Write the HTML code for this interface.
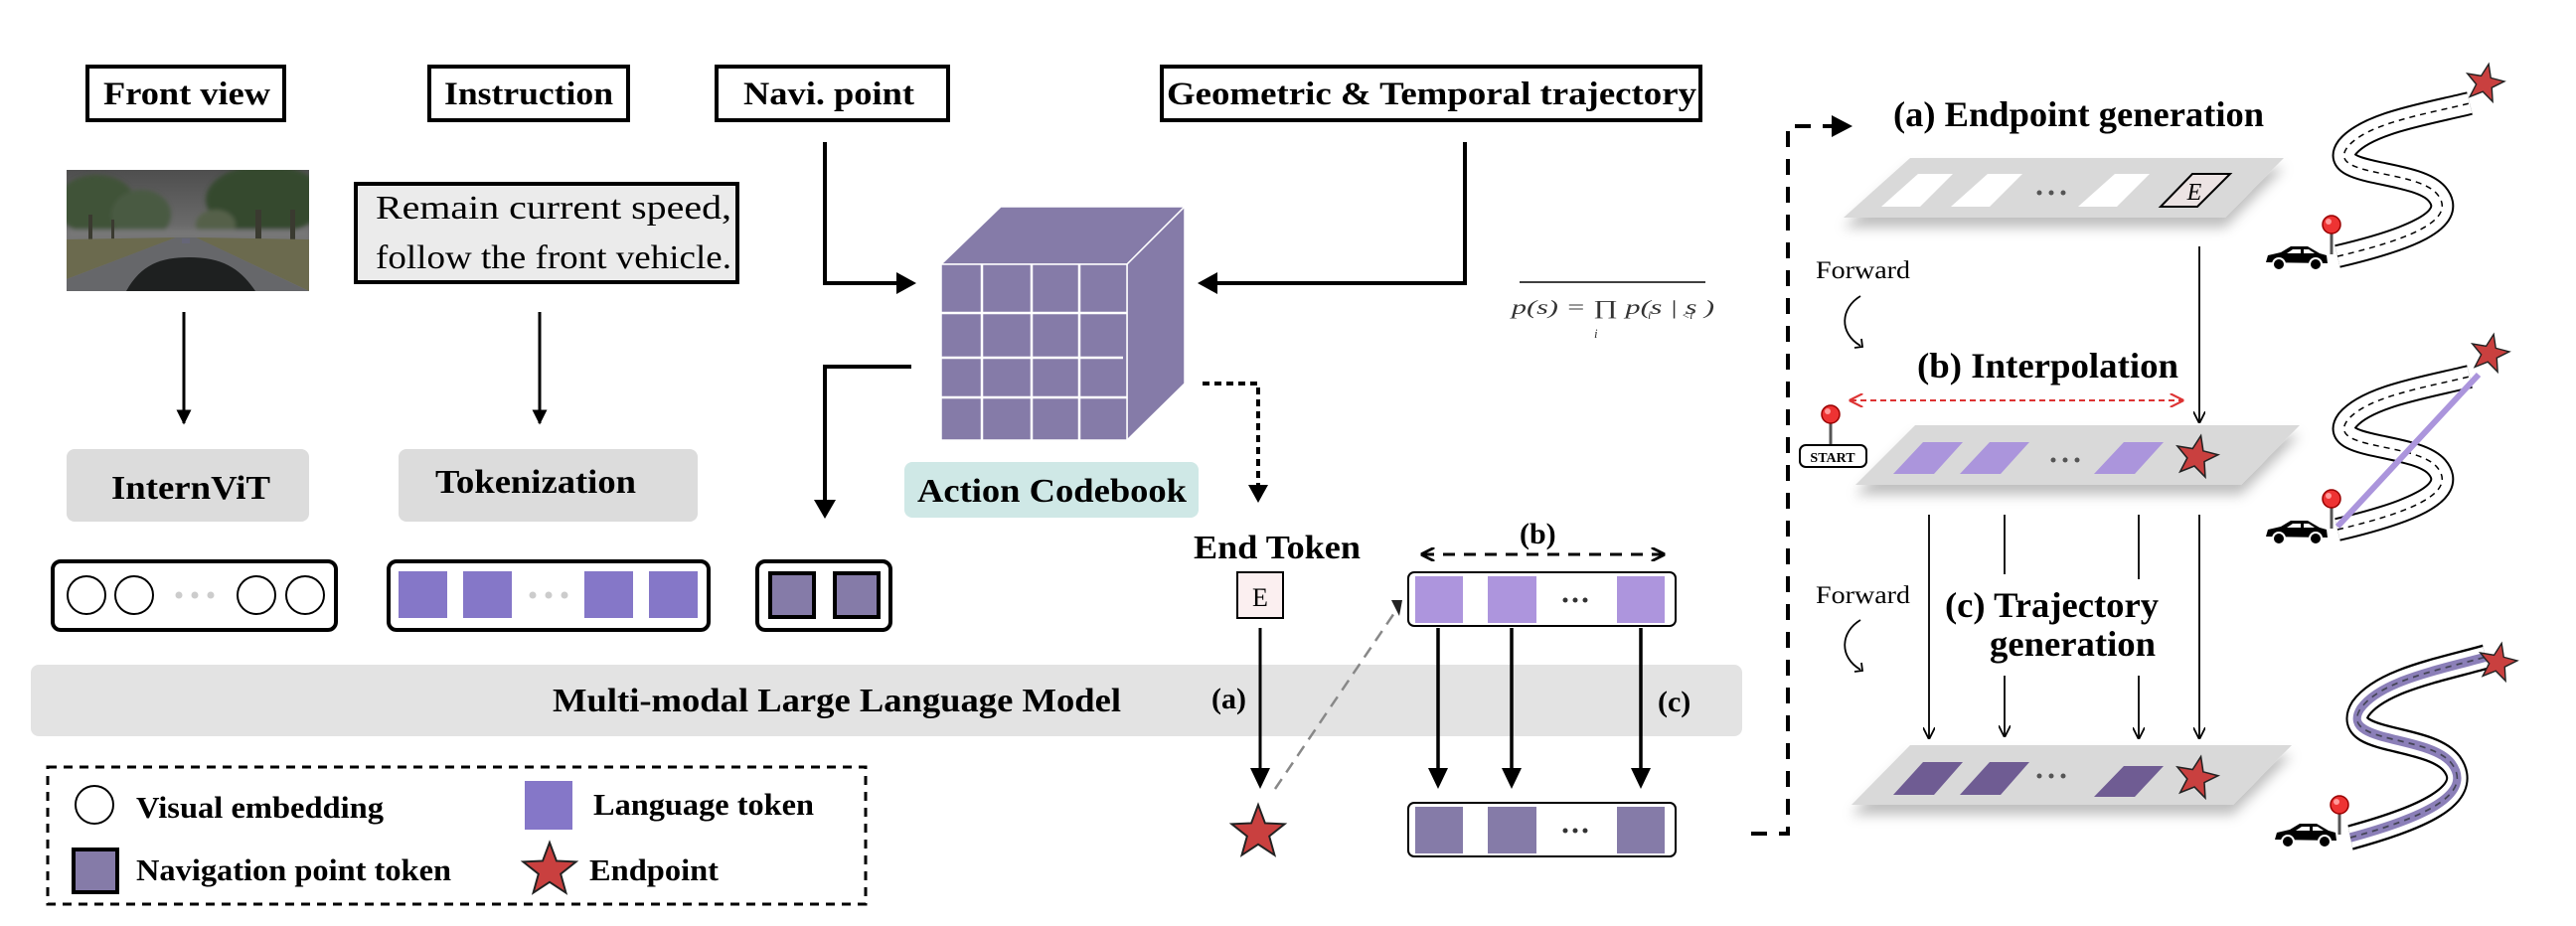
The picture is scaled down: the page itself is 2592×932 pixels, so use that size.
<!DOCTYPE html>
<html><head><meta charset="utf-8"><style>html,body{margin:0;padding:0;background:#fff}svg{display:block}text{font-family:"Liberation Serif",serif}</style></head><body>
<svg width="2592" height="932" viewBox="0 0 2592 932" xmlns="http://www.w3.org/2000/svg">
<defs>
<marker id="ah" viewBox="0 0 10 10" refX="9" refY="5" markerWidth="5" markerHeight="5" orient="auto"><path d="M0,0 L10,5 L0,10 Z" fill="#000"/></marker>
<marker id="ao" viewBox="0 0 10 10" refX="9" refY="5" markerWidth="12" markerHeight="12" orient="auto" markerUnits="userSpaceOnUse"><path d="M0,0 L10,5 L0,10" fill="none" stroke="#000" stroke-width="1.5"/></marker>
<marker id="ar" viewBox="0 0 10 10" refX="9" refY="5" markerWidth="14" markerHeight="14" orient="auto-start-reverse" markerUnits="userSpaceOnUse"><path d="M0,0 L10,5 L0,10" fill="none" stroke="#d33" stroke-width="1.5"/></marker>
<marker id="ab" viewBox="0 0 10 10" refX="9" refY="5" markerWidth="14" markerHeight="14" orient="auto-start-reverse" markerUnits="userSpaceOnUse"><path d="M0,0 L10,5 L0,10" fill="none" stroke="#000" stroke-width="2"/></marker>
<filter id="sh" x="-10%" y="-30%" width="120%" height="180%"><feDropShadow dx="0" dy="10" stdDeviation="6" flood-color="#000" flood-opacity="0.25"/></filter>
<filter id="bl"><feGaussianBlur stdDeviation="2"/></filter>
<linearGradient id="sky" x1="0" y1="0" x2="0" y2="1"><stop offset="0" stop-color="#4e4e4e"/><stop offset="1" stop-color="#8c8c8c"/></linearGradient>
<g id="car"><path d="M2,18 L4,11 L17,8 L27,2 L44,2 L56,9 L63,11 L64,19 Z" fill="#000"/><path d="M29,5 L37,5 L37,9 L23,9 Z M40,5 L45,5 L51,9 L40,9 Z" fill="#fff"/><circle cx="15" cy="20" r="6" fill="#000" stroke="#fff" stroke-width="2"/><circle cx="52" cy="20" r="6" fill="#000" stroke="#fff" stroke-width="2"/></g>
<g id="pin"><line x1="0" y1="0" x2="0" y2="30" stroke="#555" stroke-width="3"/><circle cx="0" cy="0" r="9" fill="#e33" stroke="#900" stroke-width="1.5"/><circle cx="-3" cy="-3" r="3" fill="#f99"/></g>
<path id="road" d="M2352,258 C2420,242 2475,222 2452,195 C2430,170 2340,178 2362,148 C2382,124 2440,115 2485,104"/>
</defs>

<g fill="none" stroke="#000" stroke-width="4">
<rect x="88" y="67" width="198" height="54"/>
<rect x="432" y="67" width="200" height="54"/>
<rect x="721" y="67" width="233" height="54"/>
<rect x="1169" y="67" width="542" height="54"/>
</g>
<g font-weight="bold" font-size="33">
<text x="104" y="105" textLength="168" lengthAdjust="spacingAndGlyphs">Front view</text>
<text x="447" y="105" textLength="170" lengthAdjust="spacingAndGlyphs">Instruction</text>
<text x="748" y="105" textLength="172" lengthAdjust="spacingAndGlyphs">Navi. point</text>
<text x="1174" y="105" textLength="533" lengthAdjust="spacingAndGlyphs">Geometric &amp; Temporal trajectory</text>
</g>

<svg x="67" y="171" width="244" height="122" viewBox="0 0 244 122">
<rect width="244" height="122" fill="url(#sky)"/>
<g filter="url(#bl)">
<ellipse cx="30" cy="35" rx="40" ry="30" fill="#3f5239"/>
<ellipse cx="75" cy="45" rx="30" ry="25" fill="#4a5a42"/>
<ellipse cx="200" cy="30" rx="60" ry="35" fill="#36492f"/>
<ellipse cx="150" cy="55" rx="20" ry="15" fill="#556048"/>
<rect x="0" y="60" width="244" height="10" fill="#777"/>
</g>
<g fill="#3a3a30"><rect x="22" y="45" width="4" height="30"/><rect x="45" y="50" width="3" height="25"/><rect x="190" y="40" width="6" height="45"/><rect x="225" y="40" width="5" height="45"/></g>
<path d="M0,70 L110,68 L0,110 Z" fill="#6b6a4e"/>
<path d="M244,70 L130,68 L244,122 Z" fill="#6b6a4e"/>
<path d="M110,68 L130,68 L244,122 L0,122 L0,110 Z" fill="#66676a"/>
<path d="M60,122 C75,95 95,88 123,88 C158,88 175,100 190,122 Z" fill="#1e2020"/>
<rect x="116" y="69" width="8" height="5" fill="#667"/>
</svg>

<rect x="358" y="185" width="384" height="99" fill="#ebebeb" stroke="#000" stroke-width="4"/>
<g font-size="34">
<text x="378" y="220" textLength="358" lengthAdjust="spacingAndGlyphs">Remain current speed,</text>
<text x="378" y="270" textLength="358" lengthAdjust="spacingAndGlyphs">follow the front vehicle.</text>
</g>

<g stroke="#000" stroke-width="3" fill="none" marker-end="url(#ah)">
<line x1="185" y1="314" x2="185" y2="426"/>
<line x1="543" y1="314" x2="543" y2="426"/>
</g>

<rect x="67" y="452" width="244" height="73" rx="8" fill="#dcdcdc"/>
<rect x="401" y="452" width="301" height="73" rx="8" fill="#dcdcdc"/>
<g font-weight="bold" font-size="34">
<text x="112" y="502" textLength="160" lengthAdjust="spacingAndGlyphs">InternViT</text>
<text x="438" y="496" textLength="202" lengthAdjust="spacingAndGlyphs">Tokenization</text>
</g>

<rect x="53" y="565" width="285" height="69" rx="8" fill="#fff" stroke="#000" stroke-width="4"/>
<g fill="#fff" stroke="#000" stroke-width="2"><circle cx="87" cy="599" r="19"/><circle cx="135" cy="599" r="19"/><circle cx="258" cy="599" r="19"/><circle cx="307" cy="599" r="19"/></g>
<g fill="#ccc"><circle cx="180" cy="599" r="3.5"/><circle cx="196" cy="599" r="3.5"/><circle cx="212" cy="599" r="3.5"/></g>

<rect x="391" y="565" width="322" height="69" rx="8" fill="#fff" stroke="#000" stroke-width="4"/>
<g fill="#8577c8"><rect x="401" y="575" width="49" height="47"/><rect x="466" y="575" width="49" height="47"/><rect x="588" y="575" width="49" height="47"/><rect x="653" y="575" width="49" height="47"/></g>
<g fill="#ccc"><circle cx="536" cy="599" r="3.5"/><circle cx="552" cy="599" r="3.5"/><circle cx="568" cy="599" r="3.5"/></g>

<rect x="762" y="565" width="134" height="69" rx="8" fill="#fff" stroke="#000" stroke-width="4"/>
<g fill="#857ba8" stroke="#000" stroke-width="4"><rect x="775" y="577" width="44" height="44"/><rect x="840" y="577" width="44" height="44"/></g>

<g stroke="#000" stroke-width="4" fill="none">
<polyline points="830,143 830,285 905,285"/>
<polyline points="1474,143 1474,285 1222,285"/>
<polyline points="917,369 830,369 830,505"/>
</g>
<path d="M902,274 L922,285 L902,296 Z"/>
<path d="M1225,274 L1205,285 L1225,296 Z"/>
<path d="M819,503 L830,522 L841,503 Z"/>

<g fill="#857ba8" stroke="#fff" stroke-width="1.5">
<path d="M947,266 L1007,208 L1192,208 L1134,266 Z"/>
<path d="M1134,266 L1192,208 L1192,386 L1134,443 Z"/>
<rect x="947" y="266" width="187" height="177"/>
</g>
<g stroke="#fff" stroke-width="2.5">
<line x1="988" y1="266" x2="988" y2="443"/><line x1="1038" y1="266" x2="1038" y2="443"/><line x1="1086" y1="266" x2="1086" y2="443"/>
<line x1="947" y1="315" x2="1134" y2="315"/><line x1="947" y1="360" x2="1130" y2="360"/><line x1="947" y1="400" x2="1134" y2="400"/>
</g>

<rect x="910" y="465" width="296" height="56" rx="8" fill="#cfe8e6"/>
<text x="923" y="505" font-weight="bold" font-size="34" textLength="271" lengthAdjust="spacingAndGlyphs">Action Codebook</text>

<polyline points="1210,386 1266,386 1266,490" fill="none" stroke="#000" stroke-width="4" stroke-dasharray="7,5"/>
<path d="M1256,488 L1266,506 L1276,488 Z"/>

<line x1="1529" y1="284" x2="1716" y2="284" stroke="#000" stroke-width="1.5"/>
<text x="1521" y="316" font-size="20" font-style="italic" fill="#333" textLength="204" lengthAdjust="spacingAndGlyphs">p(s) = ∏ p(s  | s   )</text>
<text x="1658" y="321" font-size="12" font-style="italic" fill="#333">i</text>
<text x="1692" y="321" font-size="12" font-style="italic" fill="#333">&lt;i</text>
<text x="1604" y="340" font-size="13" font-style="italic" fill="#333">i</text>

<text x="1201" y="562" font-weight="bold" font-size="34" textLength="168" lengthAdjust="spacingAndGlyphs">End Token</text>
<rect x="1245" y="576" width="46" height="46" fill="#fbeff0" stroke="#000" stroke-width="2"/>
<text x="1268" y="610" font-size="26" text-anchor="middle">E</text>

<rect x="31" y="669" width="1722" height="72" rx="8" fill="#e3e3e3"/>
<text x="556" y="716" font-weight="bold" font-size="34" textLength="572" lengthAdjust="spacingAndGlyphs">Multi-modal Large Language Model</text>
<text x="1219" y="713" font-weight="bold" font-size="30">(a)</text>
<text x="1668" y="716" font-weight="bold" font-size="30">(c)</text>

<line x1="1268" y1="632" x2="1268" y2="775" stroke="#000" stroke-width="3"/>
<path d="M1258,773 L1268,794 L1278,773 Z"/>
<g transform="translate(1266,838) scale(28)"><path d="M0,-1 L0.247,-0.34 L0.951,-0.309 L0.399,0.13 L0.588,0.809 L0,0.42 L-0.588,0.809 L-0.399,0.13 L-0.951,-0.309 L-0.247,-0.34 Z" fill="#c9403f" stroke="#222" stroke-width="0.07"/></g>
<line x1="1283" y1="794" x2="1405" y2="614" stroke="#888" stroke-width="2.5" stroke-dasharray="12,8"/>
<path d="M1400,604 L1411,604 L1408,620 Z" fill="#222"/>

<text x="1529" y="547" font-weight="bold" font-size="30">(b)</text>
<line x1="1431" y1="558" x2="1674" y2="558" stroke="#000" stroke-width="3" stroke-dasharray="12,9" marker-start="url(#ab)" marker-end="url(#ab)"/>
<rect x="1417" y="576" width="269" height="54" rx="6" fill="#fff" stroke="#000" stroke-width="2"/>
<g fill="#ad95dd"><rect x="1424" y="580" width="48" height="47"/><rect x="1497" y="580" width="49" height="47"/><rect x="1627" y="580" width="48" height="47"/></g>
<g fill="#333"><circle cx="1585" cy="604" r="2.5"/><circle cx="1595" cy="604" r="2.5"/><circle cx="1575" cy="604" r="2.5"/></g>
<g stroke="#000" stroke-width="3.5"><line x1="1447" y1="632" x2="1447" y2="775"/><line x1="1521" y1="632" x2="1521" y2="775"/><line x1="1651" y1="632" x2="1651" y2="775"/></g>
<path d="M1437,773 L1447,794 L1457,773 Z M1511,773 L1521,794 L1531,773 Z M1641,773 L1651,794 L1661,773 Z"/>
<rect x="1417" y="808" width="269" height="54" rx="6" fill="#fff" stroke="#000" stroke-width="2"/>
<g fill="#857ba8"><rect x="1424" y="812" width="48" height="47"/><rect x="1497" y="812" width="49" height="47"/><rect x="1627" y="812" width="48" height="47"/></g>
<g fill="#333"><circle cx="1585" cy="836" r="2.5"/><circle cx="1595" cy="836" r="2.5"/><circle cx="1575" cy="836" r="2.5"/></g>

<rect x="48" y="772" width="823" height="138" fill="none" stroke="#000" stroke-width="3" stroke-dasharray="9,7"/>
<circle cx="95" cy="810" r="19" fill="#fff" stroke="#000" stroke-width="2"/>
<rect x="528" y="786" width="48" height="49" fill="#8577c8"/>
<rect x="74" y="855" width="44" height="43" fill="#857ba8" stroke="#000" stroke-width="4"/>
<g transform="translate(553,876) scale(28)"><path d="M0,-1 L0.247,-0.34 L0.951,-0.309 L0.399,0.13 L0.588,0.809 L0,0.42 L-0.588,0.809 L-0.399,0.13 L-0.951,-0.309 L-0.247,-0.34 Z" fill="#c9403f" stroke="#222" stroke-width="0.07"/></g>
<g font-weight="bold" font-size="31">
<text x="137" y="823" textLength="249" lengthAdjust="spacingAndGlyphs">Visual embedding</text>
<text x="597" y="820" textLength="222" lengthAdjust="spacingAndGlyphs">Language token</text>
<text x="137" y="886" textLength="317" lengthAdjust="spacingAndGlyphs">Navigation point token</text>
<text x="593" y="886" textLength="130" lengthAdjust="spacingAndGlyphs">Endpoint</text>
</g>

<polyline points="1762,839 1799,839 1799,127 1845,127" fill="none" stroke="#000" stroke-width="4" stroke-dasharray="16,12"/>
<path d="M1843,116 L1864,127 L1843,138 Z"/>

<g font-weight="bold" font-size="36">
<text x="1905" y="127" textLength="373" lengthAdjust="spacingAndGlyphs">(a) Endpoint generation</text>
<text x="1929" y="380" textLength="263" lengthAdjust="spacingAndGlyphs">(b) Interpolation</text>
<text x="1957" y="621" textLength="215" lengthAdjust="spacingAndGlyphs">(c) Trajectory</text>
<text x="2002" y="660" textLength="167" lengthAdjust="spacingAndGlyphs">generation</text>
</g>
<g font-size="25">
<text x="1827" y="280" textLength="95" lengthAdjust="spacingAndGlyphs">Forward</text>
<text x="1827" y="607" textLength="95" lengthAdjust="spacingAndGlyphs">Forward</text>
</g>
<g fill="none" stroke="#000" stroke-width="1.8">
<path d="M1872,298 C1852,310 1850,335 1872,348"/><path d="M1866,350 L1874,349 L1873,341"/>
<path d="M1872,624 C1852,636 1850,661 1872,674"/><path d="M1866,676 L1874,675 L1873,667"/>
</g>

<path d="M1922,159 L2298,159 L2239,219 L1855,219 Z" fill="#d9d9d9" filter="url(#sh)"/>
<g fill="#fff"><path d="M1930,175 L1965,175 L1932,208 L1893,208 Z"/><path d="M2000,175 L2035,175 L2002,208 L1963,208 Z"/><path d="M2128,175 L2163,175 L2130,208 L2091,208 Z"/></g>
<path d="M2206,175 L2244,175 L2211,208 L2174,208 Z" fill="#ece3e3" stroke="#000" stroke-width="2"/>
<text x="2208" y="201" font-size="24" font-style="italic" text-anchor="middle">E</text>
<g fill="#555"><circle cx="2052" cy="194" r="2.5"/><circle cx="2064" cy="194" r="2.5"/><circle cx="2076" cy="194" r="2.5"/></g>
<line x1="2213" y1="248" x2="2213" y2="425" stroke="#000" stroke-width="1.8" marker-end="url(#ao)"/>

<line x1="1862" y1="403" x2="2196" y2="403" stroke="#d33" stroke-width="2" stroke-dasharray="6,4" marker-start="url(#ar)" marker-end="url(#ar)"/>
<use href="#pin" transform="translate(1842,417)"/>
<rect x="1811" y="448" width="67" height="22" rx="6" fill="#fff" stroke="#000" stroke-width="2"/>
<text x="1844" y="465" font-size="14" font-weight="bold" text-anchor="middle">START</text>
<path d="M1927,428 L2314,428 L2255,488 L1867,488 Z" fill="#d9d9d9" filter="url(#sh)"/>
<g fill="#ab95dc"><path d="M1935,445 L1975,445 L1946,477 L1905,477 Z"/><path d="M2002,445 L2042,445 L2013,477 L1972,477 Z"/><path d="M2137,445 L2177,445 L2148,477 L2107,477 Z"/></g>
<g fill="#555"><circle cx="2066" cy="463" r="2.5"/><circle cx="2078" cy="463" r="2.5"/><circle cx="2090" cy="463" r="2.5"/></g>
<g transform="translate(2210,460) rotate(12) scale(22)"><path d="M0,-1 L0.247,-0.34 L0.951,-0.309 L0.399,0.13 L0.588,0.809 L0,0.42 L-0.588,0.809 L-0.399,0.13 L-0.951,-0.309 L-0.247,-0.34 Z" fill="#c9403f" stroke="#222" stroke-width="0.07"/></g>
<g stroke="#000" stroke-width="1.8" fill="none">
<line x1="1941" y1="518" x2="1941" y2="743" marker-end="url(#ao)"/>
<line x1="2213" y1="518" x2="2213" y2="743" marker-end="url(#ao)"/>
<line x1="2017" y1="518" x2="2017" y2="578"/><line x1="2017" y1="680" x2="2017" y2="741" marker-end="url(#ao)"/>
<line x1="2152" y1="518" x2="2152" y2="583"/><line x1="2152" y1="680" x2="2152" y2="743" marker-end="url(#ao)"/>
</g>

<path d="M1922,750 L2306,750 L2247,810 L1863,810 Z" fill="#d9d9d9" filter="url(#sh)"/>
<g fill="#6f5c93"><path d="M1935,767 L1975,767 L1946,800 L1905,800 Z"/><path d="M2002,767 L2042,767 L2013,800 L1972,800 Z"/><path d="M2137,771 L2177,771 L2148,802 L2107,802 Z"/></g>
<g fill="#555"><circle cx="2052" cy="781" r="2.5"/><circle cx="2064" cy="781" r="2.5"/><circle cx="2076" cy="781" r="2.5"/></g>
<g transform="translate(2210,783) rotate(12) scale(22)"><path d="M0,-1 L0.247,-0.34 L0.951,-0.309 L0.399,0.13 L0.588,0.809 L0,0.42 L-0.588,0.809 L-0.399,0.13 L-0.951,-0.309 L-0.247,-0.34 Z" fill="#c9403f" stroke="#222" stroke-width="0.07"/></g>

<g fill="none">
<g><use href="#road" stroke="#000" stroke-width="24"/><use href="#road" stroke="#fff" stroke-width="20"/><use href="#road" stroke="#000" stroke-width="1.5" stroke-dasharray="6,5"/></g>
<g transform="translate(0,275)"><use href="#road" stroke="#000" stroke-width="24"/><use href="#road" stroke="#fff" stroke-width="20"/><use href="#road" stroke="#000" stroke-width="1.5" stroke-dasharray="6,5"/></g>
<line x1="2352" y1="530" x2="2494" y2="377" stroke="#ab95dc" stroke-width="6"/>
<g transform="translate(2365,843) scale(1.02,1.18) translate(-2352,-258)"><use href="#road" stroke="#000" stroke-width="22"/><use href="#road" stroke="#fff" stroke-width="18"/><use href="#road" stroke="#8b7fb8" stroke-width="8"/><use href="#road" stroke="#445" stroke-width="1.5" stroke-dasharray="6,5"/></g>
</g>
<g transform="translate(2500,84) rotate(12) scale(20)"><path d="M0,-1 L0.247,-0.34 L0.951,-0.309 L0.399,0.13 L0.588,0.809 L0,0.42 L-0.588,0.809 L-0.399,0.13 L-0.951,-0.309 L-0.247,-0.34 Z" fill="#c9403f" stroke="#222" stroke-width="0.07"/></g>
<g transform="translate(2505,356) rotate(12) scale(20)"><path d="M0,-1 L0.247,-0.34 L0.951,-0.309 L0.399,0.13 L0.588,0.809 L0,0.42 L-0.588,0.809 L-0.399,0.13 L-0.951,-0.309 L-0.247,-0.34 Z" fill="#c9403f" stroke="#222" stroke-width="0.07"/></g>
<g transform="translate(2513,667) rotate(12) scale(20)"><path d="M0,-1 L0.247,-0.34 L0.951,-0.309 L0.399,0.13 L0.588,0.809 L0,0.42 L-0.588,0.809 L-0.399,0.13 L-0.951,-0.309 L-0.247,-0.34 Z" fill="#c9403f" stroke="#222" stroke-width="0.07"/></g>
<use href="#pin" transform="translate(2346,226)"/>
<use href="#pin" transform="translate(2346,502)"/>
<use href="#pin" transform="translate(2354,810)"/>
<use href="#car" transform="translate(2278,246)"/>
<use href="#car" transform="translate(2278,522)"/>
<use href="#car" transform="translate(2287,827)"/>
</svg>
</body></html>
